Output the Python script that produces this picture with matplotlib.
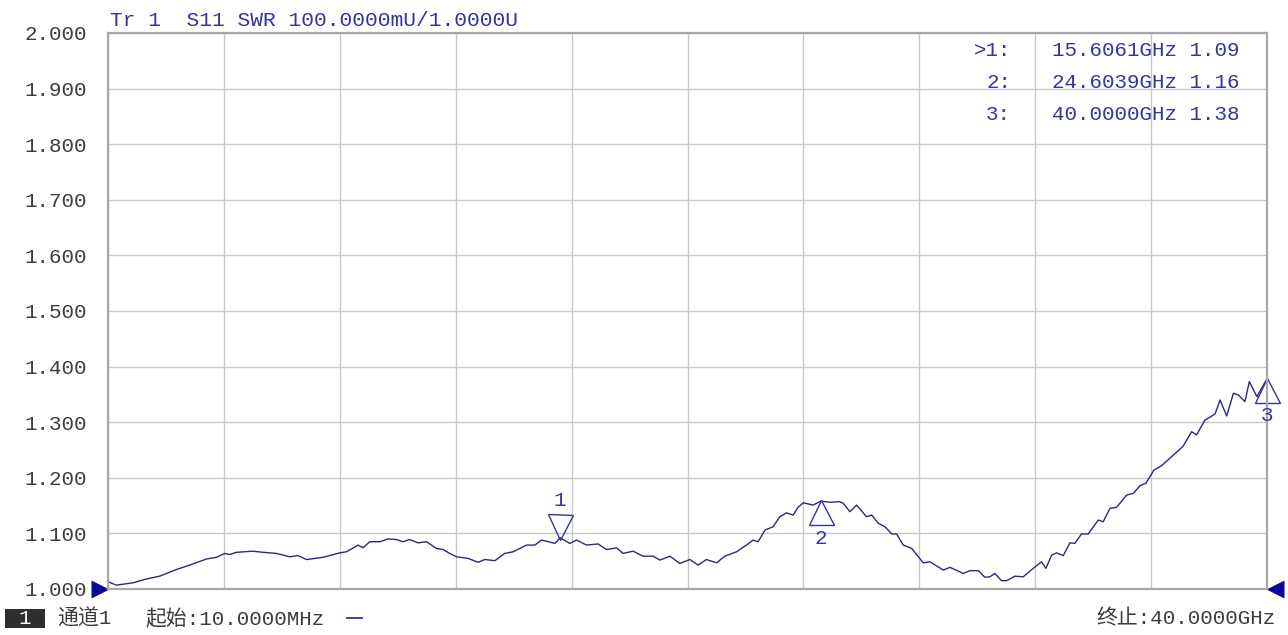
"""
S11 SWR trace from a vector network analyser screen, redrawn with matplotlib.
"""
import matplotlib.pyplot as plt
from matplotlib.lines import Line2D
from matplotlib.patches import Rectangle
from matplotlib.transforms import offset_copy


# Sweep range (GHz)
START_GHZ = 0.01
STOP_GHZ = 40.0

# Trace: frequency (GHz) and SWR
FREQ_GHZ = [
	0.01, 0.30, 0.86, 1.34, 1.79, 2.37, 2.83, 3.41, 3.75, 4.04,
	4.21, 4.44, 5.01, 5.36, 5.82, 6.28, 6.57, 6.86, 7.43, 8.01,
	8.24, 8.64, 8.81, 9.04, 9.39, 9.67, 9.96, 10.19, 10.42, 10.71,
	11.00, 11.34, 11.57, 11.80, 12.03, 12.44, 12.78, 13.01, 13.36, 13.70,
	13.99, 14.45, 14.74, 14.97, 15.14, 15.43, 15.61, 15.94, 16.18, 16.52,
	16.92, 17.21, 17.56, 17.78, 18.13, 18.47, 18.82, 19.05, 19.40, 19.74,
	20.09, 20.37, 20.66, 21.01, 21.29, 21.70, 22.04, 22.27, 22.44, 22.68,
	22.96, 23.19, 23.42, 23.65, 23.82, 24.00, 24.34, 24.60, 24.92, 25.26,
	25.38, 25.61, 25.84, 26.18, 26.36, 26.59, 26.82, 27.05, 27.22, 27.45,
	27.74, 28.14, 28.37, 28.83, 29.06, 29.52, 29.75, 30.04, 30.27, 30.44,
	30.61, 30.84, 31.02, 31.30, 31.59, 31.93, 32.22, 32.37, 32.57, 32.74,
	32.97, 33.20, 33.37, 33.60, 33.83, 34.18, 34.35, 34.58, 34.81, 35.16,
	35.39, 35.62, 35.82, 36.10, 36.37, 36.77, 37.11, 37.23, 37.40, 37.57,
	37.86, 38.09, 38.21, 38.38, 38.61, 38.84, 39.01, 39.24, 39.39, 39.65,
	40.00,
]
SWR = [
	1.013, 1.007, 1.011, 1.018, 1.023, 1.035, 1.043, 1.054, 1.057, 1.064,
	1.062, 1.066, 1.068, 1.066, 1.064, 1.058, 1.060, 1.053, 1.057, 1.065,
	1.067, 1.079, 1.074, 1.085, 1.085, 1.090, 1.089, 1.085, 1.089, 1.083,
	1.085, 1.073, 1.071, 1.064, 1.058, 1.055, 1.048, 1.053, 1.051, 1.064,
	1.067, 1.079, 1.079, 1.088, 1.086, 1.082, 1.092, 1.082, 1.088, 1.079,
	1.081, 1.071, 1.074, 1.064, 1.068, 1.059, 1.059, 1.052, 1.059, 1.046,
	1.053, 1.043, 1.053, 1.047, 1.059, 1.067, 1.079, 1.088, 1.085, 1.106,
	1.112, 1.130, 1.137, 1.133, 1.147, 1.155, 1.151, 1.158, 1.156, 1.157,
	1.154, 1.139, 1.151, 1.130, 1.133, 1.118, 1.112, 1.099, 1.099, 1.079,
	1.073, 1.047, 1.049, 1.034, 1.039, 1.028, 1.033, 1.033, 1.021, 1.022,
	1.028, 1.015, 1.015, 1.023, 1.022, 1.037, 1.049, 1.037, 1.061, 1.065,
	1.060, 1.083, 1.082, 1.099, 1.099, 1.124, 1.121, 1.145, 1.147, 1.169,
	1.172, 1.186, 1.190, 1.214, 1.222, 1.241, 1.257, 1.268, 1.283, 1.277,
	1.304, 1.311, 1.315, 1.340, 1.311, 1.352, 1.349, 1.337, 1.373, 1.346,
	1.378,
]

# Markers
MARKER_NAMES = ['1', '2', '3']
MARKER_FREQ = [15.6061, 24.6039, 40.0]
MARKER_SWR = [1.09, 1.16, 1.38]
MARKER_READOUT = ['15.6061GHz 1.09', '24.6039GHz 1.16', '40.0000GHz 1.38']

Y_TICKS = [1.0, 1.1, 1.2, 1.3, 1.4, 1.5, 1.6, 1.7, 1.8, 1.9, 2.0]
Y_TICK_LABELS = ['1.000', '1.100', '1.200', '1.300', '1.400', '1.500',
	'1.600', '1.700', '1.800', '1.900', '2.000']

HEADER = 'Tr 1  S11 SWR 100.0000mU/1.0000U'
START_LABEL = '起始:10.0000MHz'
STOP_LABEL = '终止:40.0000GHz'
CHANNEL_LABEL = '通道1'

FONT = ['Liberation Mono', 'Noto Sans CJK SC', 'DejaVu Sans']
BLUE = '#34349c'
TRACE = '#2a2a7c'
TEXT = '#3c3c3c'
W, H = 1288, 635


def fx(px):
	return px / W


def fy(py):
	return 1 - py / H


def main():
	fig = plt.figure(figsize=(W / 100, H / 100), dpi=100)
	ax = fig.add_axes([fx(108), fy(589), fx(1267) - fx(108), fy(33) - fy(589)])

	ax.set_xlim(START_GHZ, STOP_GHZ)
	ax.set_ylim(1.0, 2.0)
	step = (STOP_GHZ - START_GHZ) / 10
	ax.set_xticks([START_GHZ + i * step for i in range(11)])
	ax.set_xticklabels([])
	ax.set_yticks(Y_TICKS)
	ax.set_yticklabels(Y_TICK_LABELS, family=FONT, fontsize=15, color=TEXT)
	ax.tick_params(length=0, pad=15)
	ax.grid(True, color='#c8c8c8', lw=1.0)
	for s in ax.spines.values():
		s.set_color('#a8a8a8')
		s.set_linewidth(1.6)

	ax.plot(FREQ_GHZ, SWR, color=TRACE, lw=1.0)

	# marker triangles and their numbers
	for i, (name, f, s) in enumerate(zip(MARKER_NAMES, MARKER_FREQ, MARKER_SWR)):
		above = i == 0
		trans = offset_copy(ax.transData, fig=fig, x=0, y=12 if above else -12, units='dots')
		ax.plot([f], [s], marker='v' if above else '^', ms=18, mfc='none',
			mec=BLUE, mew=1.0, transform=trans, clip_on=False)
		ax.annotate(name, xy=(f, s), xytext=(0, 38 if above else -38),
			textcoords='offset pixels', ha='center', va='center',
			family=FONT, fontsize=15, color=BLUE, annotation_clip=False)

	# reference level arrows at both ends
	ax.plot([START_GHZ], [1.0], marker='>', ms=13, color='#0a0a96', mec='none',
		transform=offset_copy(ax.transData, fig=fig, x=-8, y=0, units='dots'), clip_on=False)
	ax.plot([STOP_GHZ], [1.0], marker='<', ms=13, color='#0a0a96', mec='none',
		transform=offset_copy(ax.transData, fig=fig, x=8, y=0, units='dots'), clip_on=False)

	# header and marker readout
	fig.text(fx(110), fy(20), HEADER, family=FONT, fontsize=15.3, color=BLUE, va='center')
	for i, (name, txt) in enumerate(zip(MARKER_NAMES, MARKER_READOUT)):
		yy = fy(50 + 32 * i)
		prefix = '>' if i == 0 else ''
		fig.text(fx(1011), yy, prefix + name + ':', family=FONT, fontsize=15,
			color=BLUE, ha='right', va='center')
		fig.text(fx(1052), yy, txt, family=FONT, fontsize=15, color=BLUE, va='center')

	# status bar
	fig.add_artist(Rectangle((fx(5), fy(628)), fx(45) - fx(5), fy(609) - fy(628),
		transform=fig.transFigure, facecolor='#2e2e2e', edgecolor='none'))
	fig.text(fx(25), fy(619), '1', family=FONT, fontsize=15, color='white',
		ha='center', va='center')
	fig.text(fx(57), fy(619), CHANNEL_LABEL, family=FONT, fontsize=15, color=TEXT, va='center')
	fig.text(fx(145), fy(619), START_LABEL, family=FONT, fontsize=15, color=TEXT, va='center')
	fig.add_artist(Line2D([fx(347), fx(362)], [fy(618), fy(618)], color=BLUE, lw=1.3,
		transform=fig.transFigure))
	fig.text(fx(1276), fy(619), STOP_LABEL, family=FONT, fontsize=15, color=TEXT,
		ha='right', va='center')

	fig.savefig('out.png', dpi=100, facecolor='white')


if __name__ == '__main__':
	main()
